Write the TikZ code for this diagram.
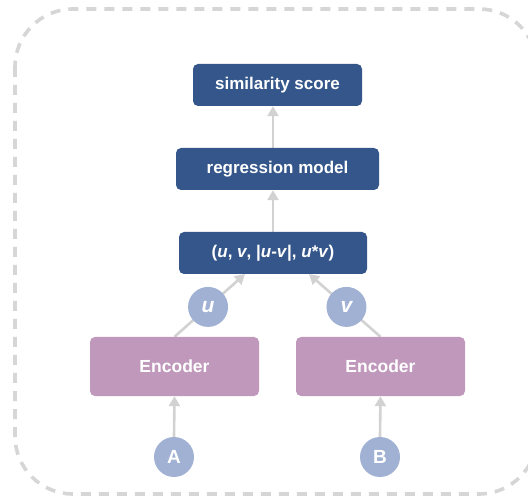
\documentclass[tikz,border=0pt]{standalone}
\usepackage{fontspec}
\setmainfont{Liberation Sans}
\usetikzlibrary{arrows.meta,backgrounds,calc}
\definecolor{dblue}{RGB}{52,86,138}
\definecolor{mauve}{RGB}{191,152,187}
\definecolor{cblue}{RGB}{160,177,212}
\definecolor{arrgray}{RGB}{210,210,210}
\definecolor{bordgray}{RGB}{214,214,214}
\begin{document}
\begin{tikzpicture}[x=1pt,y=-1pt,
  bluebox/.style={fill=dblue,rounded corners=5pt,text=white,font=\fontsize{17}{19}\selectfont\bfseries,inner sep=0pt},
  encbox/.style={fill=mauve,rounded corners=5pt,text=white,font=\fontsize{17.5}{19}\selectfont\bfseries,minimum width=169pt,minimum height=59pt,inner sep=0pt},
  circ/.style={circle,fill=cblue,text=white,minimum size=40pt,inner sep=0pt,font=\fontsize{19}{21}\selectfont\bfseries},
  arr/.style={draw=arrgray,line width=2.6pt,-{Triangle[width=11pt,length=10pt]}}]
\useasboundingbox (0,0) rectangle (528,497);
\node[bluebox,minimum width=169pt,minimum height=42pt] (sim) at (277.5,85) {similarity score};
\node[bluebox,minimum width=203pt,minimum height=42pt] (reg) at (277.5,169) {regression model};
\node[bluebox,minimum width=188pt,minimum height=42pt] (tup) at (273,253) {(\textit{u}, \textit{v}, |\textit{u}-\textit{v}|, \textit{u}*\textit{v})};
\node[encbox] (encA) at (174.5,366.5) {Encoder};
\node[encbox] (encB) at (380.5,366.5) {Encoder};
\node[circ] (A) at (174,457) {A};
\node[circ] (B) at (380,457) {B};
\coordinate (tu) at (245,274);
\coordinate (tv) at (309,274);
\node[circ,font=\fontsize{21}{23}\selectfont\bfseries\itshape] (u) at ($(encA.north)!0.476!(tu)$) {u};
\node[circ,font=\fontsize{21}{23}\selectfont\bfseries\itshape] (v) at ($(encB.north)!0.476!(tv)$) {v};
\begin{pgfonlayer}{background}
  \begin{scope}
    \clip (0,0) rectangle (528,497);
    \draw[bordgray,line width=3.6pt,dash pattern=on 10pt off 8pt,rounded corners=58pt] (15,9) rectangle (537,494);
  \end{scope}
  \draw[arr] (A.north) -- (encA.south);
  \draw[arr] (B.north) -- (encB.south);
  \draw[arr] (encA.north) -- (tu);
  \draw[arr] (encB.north) -- (tv);
  \draw[arr] (tup.north) -- (tup.north |- reg.south);
  \draw[arr] (reg.north -| tup.north) -- (tup.north |- sim.south);
\end{pgfonlayer}
\end{tikzpicture}
\end{document}
